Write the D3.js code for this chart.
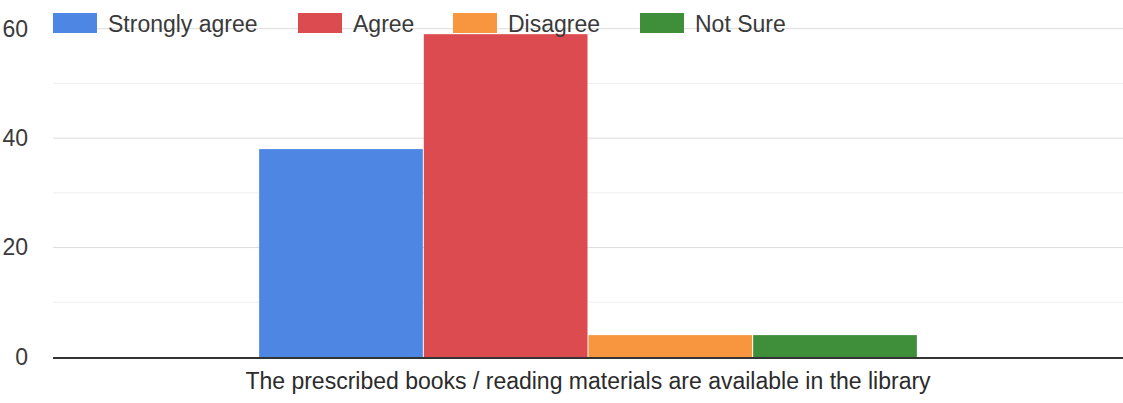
<!DOCTYPE html>
<html><head><meta charset="utf-8">
<script src="https://cdn.jsdelivr.net/npm/d3@7"></script>
<style>body{margin:0;background:#fff;} svg{display:block;font-family:"Liberation Sans",Arial,sans-serif;}</style>
</head><body>
<svg id="c" width="1123" height="403"></svg>
<script>
const categories = ["The prescribed books / reading materials are available in the library"];
const seriesNames = ["Strongly agree", "Agree", "Disagree", "Not Sure"];
const seriesValues = [38, 59, 4, 4];
const seriesColors = ["#4d86e3", "#dc4b4f", "#f7963e", "#3f8e3a"];
const yTicks = [0, 20, 40, 60];
const yMinorTicks = [10, 30, 50];

(function(){
const svg = d3.select("#c");
const pLeft = 53, pRight = 1123, pTop = 28.7, pBottom = 357;
const fs = 23;
const y = d3.scaleLinear().domain([0, 60]).range([pBottom, pTop]);
const x0 = d3.scaleBand().domain(categories).range([pLeft, pRight]).paddingInner(0).paddingOuter(0.311);
const x1 = d3.scaleBand().domain(seriesNames).range([0, x0.bandwidth()]).padding(0.006);

svg.append("g").selectAll("line").data(yMinorTicks).join("line")
  .attr("x1", pLeft).attr("x2", pRight).attr("y1", d => y(d)).attr("y2", d => y(d))
  .attr("stroke", "#efefef").attr("stroke-width", 1);
svg.append("g").selectAll("line").data(yTicks.filter(d => d > 0)).join("line")
  .attr("x1", pLeft).attr("x2", pRight).attr("y1", d => y(d)).attr("y2", d => y(d))
  .attr("stroke", "#dcdcdc").attr("stroke-width", 1);

const yAxis = d3.axisLeft(y).tickValues(yTicks).tickSize(0).tickPadding(0);
const ga = svg.append("g").attr("transform", "translate(28,0)").call(yAxis);
ga.select(".domain").remove();
ga.selectAll("text").attr("font-size", fs).attr("fill", "#3a3a3a")
  .attr("font-family", '"Liberation Sans",Arial,sans-serif');

const g = svg.append("g");
categories.forEach(cat => {
  g.selectAll("rect.b").data(seriesNames.map((s, i) => ({s, v: seriesValues[i], c: seriesColors[i]})))
    .join("rect").attr("class", "b")
    .attr("x", d => x0(cat) + x1(d.s)).attr("width", x1.bandwidth())
    .attr("y", d => y(d.v)).attr("height", d => y(0) - y(d.v))
    .attr("fill", d => d.c);
});

svg.append("line").attr("x1", pLeft).attr("x2", pRight).attr("y1", y(0) + 1).attr("y2", y(0) + 1)
  .attr("stroke", "#333").attr("stroke-width", 2);

const xAxis = d3.axisBottom(x0).tickSize(0).tickPadding(0);
const gx = svg.append("g").attr("transform", `translate(0,${y(0) + 16})`).call(xAxis);
gx.select(".domain").remove();
gx.selectAll("text").attr("font-size", fs).attr("fill", "#2b2b2b")
  .attr("font-family", '"Liberation Sans",Arial,sans-serif');

const legendX = [53, 298, 453, 640];
const lg = svg.append("g");
seriesNames.forEach((s, i) => {
  lg.append("rect").attr("x", legendX[i]).attr("y", 13).attr("width", 44).attr("height", 20)
    .attr("fill", seriesColors[i]);
  lg.append("text").attr("x", legendX[i] + 55).attr("y", 32).text(s)
    .attr("font-size", fs).attr("fill", "#3a3a3a");
});
})();
</script>
</body></html>
